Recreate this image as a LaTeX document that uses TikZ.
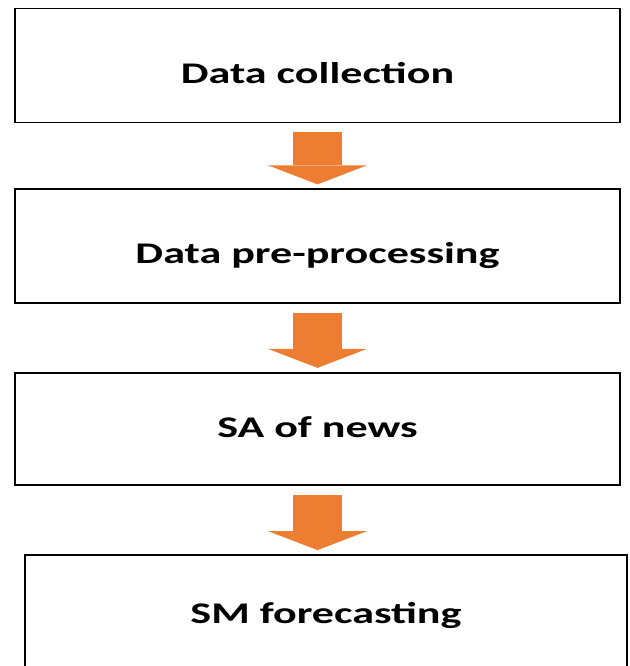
\documentclass[tikz,border=0pt]{standalone}
\usepackage{fontspec}
\newfontfamily\stagefont{Carlito}[FakeStretch=1.47]
\usetikzlibrary{positioning,arrows.meta}
\definecolor{flowOrange}{HTML}{ED7D31}

\begin{document}
\begin{tikzpicture}[
  x=1pt, y=-1pt,
  font=\stagefont\bfseries\fontsize{30}{36}\selectfont,
  stage/.style={rectangle, draw=black, line width=1.8pt, fill=white,
                minimum width=605pt, minimum height=114pt, inner sep=0pt, text depth=0pt},
  flow/.style={-{Triangle[length=19pt 0 0, width=99pt 0 0, line width=0pt 0 0]},
               draw=flowOrange, line width=49pt, shorten <=9pt, shorten >=4pt}
]
\useasboundingbox (0,0) rectangle (629,666);

\node[stage, text height=37pt] (coll) at (317.5, 65.5) {Data collection};
\node[stage, text height=35pt, minimum height=113.5pt] (prep) at (317.5, 246) {Data pre-processing};
\node[stage, text height=16pt, minimum height=112.5pt] (news) at (317.5, 429) {SA of news};
\node[stage, text height=21pt, minimum width=602pt, minimum height=115pt] (fcst) at (326, 612.5) {SM forecasting};

\draw[flow] (coll.south) -- (prep.north);
\draw[flow] (prep.south) -- (news.north);
\draw[flow] (news.south) -- (news.south |- fcst.north);
\end{tikzpicture}
\end{document}
